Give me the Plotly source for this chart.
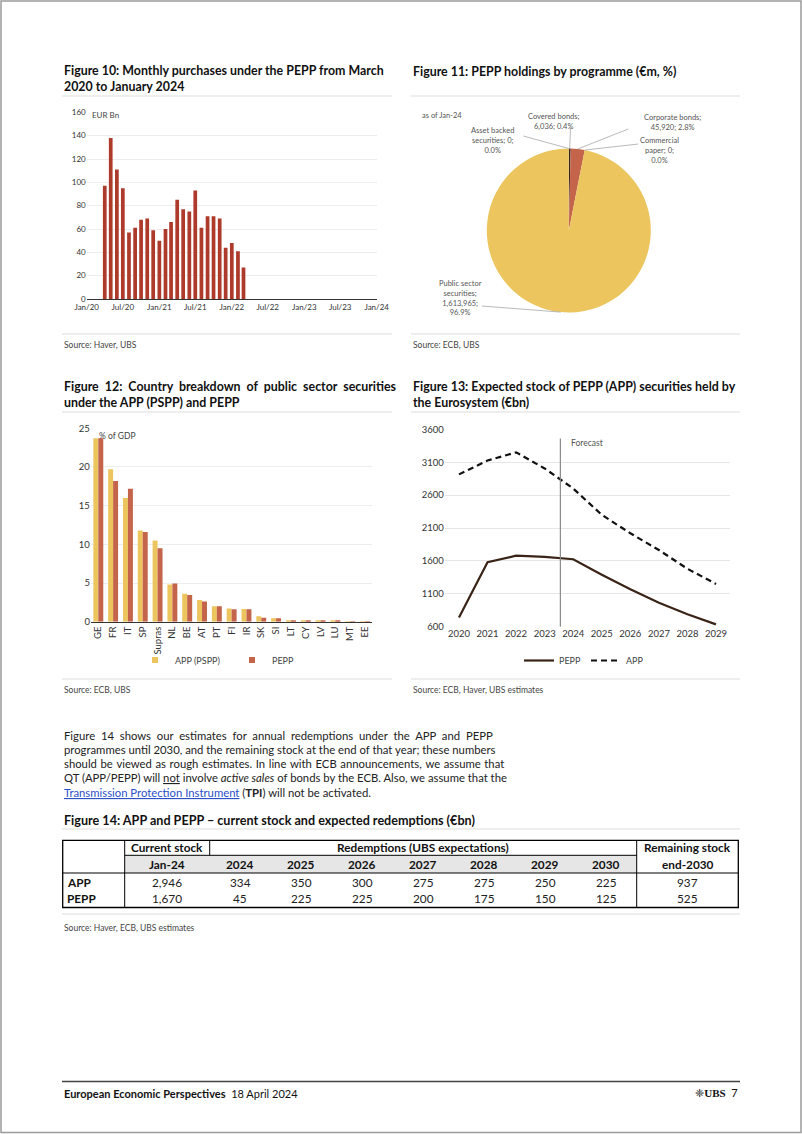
import plotly.graph_objects as go
import pandas as pd
import math

W, H = 802, 1134
def X(px): return px / W
def Y(py): return 1 - py / H

# ---------------- data ----------------
# Figure 10: monthly PEPP purchases (EUR bn), Apr-2020 .. Mar-2022
pepp_monthly = [97, 138, 111, 95, 57, 61, 68, 69, 59, 50, 60, 66,
                85, 77, 75, 93, 61, 71, 71, 69, 44, 48, 41, 27]
pepp_first_month = "2020-04-01"
f10_xrange = ["2020-01-01", "2024-01-01"]
f10_yticks = [0, 20, 40, 60, 80, 100, 120, 140, 160]

# Figure 11: PEPP holdings by programme (EUR m)
pie_names = ["Asset backed securities", "Covered bonds", "Corporate bonds",
             "Commercial paper", "Public sector securities"]
pie_values = [0, 6036, 45920, 0, 1613965]
pie_colors = ["#CFCFCF", "#3A2518", "#C3644B", "#D9D9D9", "#ECC55F"]

# Figure 12: % of GDP
countries = ["GE", "FR", "IT", "SP", "Supras", "NL", "BE", "AT", "PT", "FI",
             "IR", "SK", "SI", "LT", "CY", "LV", "LU", "MT", "EE"]
app_pspp = [23.7, 19.7, 16.0, 11.8, 10.5, 4.8, 3.6, 2.8, 2.0, 1.7,
            1.65, 0.7, 0.45, 0.2, 0.15, 0.12, 0.1, 0.03, 0.02]
pepp_gdp = [23.7, 18.2, 17.2, 11.6, 9.5, 4.95, 3.45, 2.6, 2.0, 1.6,
            1.6, 0.5, 0.45, 0.2, 0.15, 0.1, 0.1, 0.02, 0.02]

# Figure 13: expected stock (EUR bn)
years = ["2020", "2021", "2022", "2023", "2024", "2025", "2026", "2027", "2028", "2029"]
pepp_stock = [740, 1580, 1680, 1660, 1625, 1390, 1170, 965, 790, 635]
app_stock = [2915, 3125, 3250, 3005, 2700, 2300, 2020, 1765, 1480, 1250]
forecast_pos = 3.55  # between 2023 and 2024 (category units)

# Figure 14 table
tbl_programmes = ["APP", "PEPP"]
tbl_years = ["2024", "2025", "2026", "2027", "2028", "2029", "2030"]
tbl_current = [2946, 1670]
tbl_redemptions = [[334, 350, 300, 275, 275, 250, 225],
                   [45, 225, 225, 200, 175, 150, 125]]
tbl_remaining = [937, 525]

# ---------------- styles ----------------
FONT = "Lato"
TFONT = "Lato"
RED10 = "#AD3A2B"
GOLD = "#ECC55F"
BRICK = "#C3644B"
DARK = "#3A2417"
GRID = "#EDEDED"

fig = go.Figure()

# ---- Figure 10 ----
months = pd.date_range(pepp_first_month, periods=len(pepp_monthly), freq="MS")
fig.add_trace(go.Bar(x=months, y=pepp_monthly, marker_color=RED10,
                     marker_line_width=0, showlegend=False,
                     xaxis="x", yaxis="y"))

# ---- Figure 11 ----
fig.add_trace(go.Pie(labels=pie_names, values=pie_values, sort=False,
                     direction="clockwise", rotation=0,
                     marker=dict(colors=pie_colors, line=dict(width=0)),
                     textinfo="none", hoverinfo="label+value+percent",
                     showlegend=False,
                     domain=dict(x=[X(486.8), X(650.8)], y=[Y(312.5), Y(148.5)])))

# ---- Figure 12 ----
fig.add_trace(go.Bar(x=countries, y=app_pspp, name="APP (PSPP)", marker_color=GOLD,
                     marker_line_width=0, showlegend=False, xaxis="x2", yaxis="y2"))
fig.add_trace(go.Bar(x=countries, y=pepp_gdp, name="PEPP", marker_color=BRICK,
                     marker_line_width=0, showlegend=False, xaxis="x2", yaxis="y2"))
# legend proxies
fig.add_trace(go.Scatter(x=[None], y=[None], mode="markers", name="APP (PSPP)",
                         marker=dict(symbol="square", size=6, color=GOLD),
                         xaxis="x2", yaxis="y2", legend="legend"))
fig.add_trace(go.Scatter(x=[None], y=[None], mode="markers", name="PEPP",
                         marker=dict(symbol="square", size=6, color=BRICK),
                         xaxis="x2", yaxis="y2", legend="legend"))

# ---- Figure 13 ----
fig.add_trace(go.Scatter(x=years, y=pepp_stock, mode="lines", name="PEPP",
                         line=dict(color=DARK, width=2.2),
                         xaxis="x3", yaxis="y3", legend="legend2"))
fig.add_trace(go.Scatter(x=years, y=app_stock, mode="lines", name="APP",
                         line=dict(color="#111111", width=2.2, dash="6px,4px"),
                         xaxis="x3", yaxis="y3", legend="legend2"))

annotations = []
shapes = []

def txt(x, y, text, size=9, color="#333", anchor="left", family=FONT, yanchor="middle"):
    annotations.append(dict(x=X(x), y=Y(y), xref="paper", yref="paper", text=text,
                            showarrow=False, xanchor=anchor, yanchor=yanchor,
                            align=anchor if anchor != "center" else "center",
                            font=dict(size=size, color=color, family=family)))

def hline(x0, x1, y, color="#DDDDDD", width=1):
    shapes.append(dict(type="line", xref="paper", yref="paper", x0=X(x0), x1=X(x1),
                       y0=Y(y), y1=Y(y), line=dict(color=color, width=width)))

def vline(x, y0, y1, color="#000", width=1):
    shapes.append(dict(type="line", xref="paper", yref="paper", x0=X(x), x1=X(x),
                       y0=Y(y0), y1=Y(y1), line=dict(color=color, width=width)))

def widen(line, sp):
    """join words with a wider separator (simulated justification), not touching html tags"""
    parts = line.split(" ")
    out, buf = [], ""
    for p in parts:
        buf = (buf + " " + p) if buf else p
        if buf.count("<") == buf.count(">"):
            out.append(buf)
            buf = ""
    if buf:
        out.append(buf)
    return sp.join(out)

# titles
TS = 12.4
txt(62, 78, "<b>Figure 10: Monthly purchases under the PEPP from March<br>2020 to January 2024</b>",
    TS, "#111", family=TFONT)
txt(411, 71, "<b>Figure 11: PEPP holdings by programme (€m, %)</b>", TS, "#111", family=TFONT)
txt(62, 394.5, "<b>" + widen("Figure 12: Country breakdown of public sector securities", " \u00a0")
    + "<br>under the APP (PSPP) and PEPP</b>", TS, "#111", family=TFONT)
txt(411, 394.5, "<b>Figure 13: Expected stock of PEPP (APP) securities held by<br>the Eurosystem (€bn)</b>",
    TS, "#111", family=TFONT)
txt(62, 820, "<b>Figure 14: APP and PEPP – current stock and expected redemptions (€bn)</b>",
    12.6, "#111", family=TFONT)

# separators
for (a, b) in [(62, 392), (411, 740)]:
    hline(a, b, 96)
    hline(a, b, 334)
    hline(a, b, 412)
    hline(a, b, 679)
hline(62, 740, 829)
hline(62, 740, 914)

# sources
txt(62, 345, "Source: Haver, UBS", 8.5, "#444")
txt(411, 345, "Source: ECB, UBS", 8.5, "#444")
txt(62, 690, "Source: ECB, UBS", 8.5, "#444")
txt(411, 690, "Source: ECB, Haver, UBS estimates", 8.5, "#444")
txt(62, 928, "Source: Haver, ECB, UBS estimates", 8.5, "#444")

# in-chart notes
txt(90, 115, "EUR Bn", 8, "#444")
txt(97, 436, "% of GDP", 8.5, "#444")
txt(420, 115, "as of Jan-24", 7.5, "#555")

# pie labels and leader lines computed from the data
total = sum(pie_values)
pcts = [v / total * 100 for v in pie_values]
label_texts = [
    f"Asset backed<br>securities; {pie_values[0]:,};<br>{pcts[0]:.1f}%",
    f"Covered bonds;<br>{pie_values[1]:,}; {pcts[1]:.1f}%",
    f"Corporate bonds;<br>{pie_values[2]:,}; {pcts[2]:.1f}%",
    f"Commercial<br>paper; {pie_values[3]:,};<br>{pcts[3]:.1f}%",
    f"Public sector<br>securities;<br>{pie_values[4]:,};<br>{pcts[4]:.1f}%",
]
label_pos = [(493, 141), (554, 121.5), (672, 122.5), (659, 150), (460, 297.5)]
leader_from = [(523.3, 136), (570.5, 128), (628.3, 129), (638.3, 144), (481.7, 306)]
cx, cy, r = 568.8, 230.5, 82
cum = 0
for i, v in enumerate(pie_values):
    mid = (cum + v / 2) / total * 2 * math.pi
    cum += v
    ex, ey = cx + r * math.sin(mid), cy - r * math.cos(mid)
    lx, ly = leader_from[i]
    shapes.append(dict(type="line", xref="paper", yref="paper", x0=X(lx), y0=Y(ly),
                       x1=X(ex), y1=Y(ey), line=dict(color="#A8A8A8", width=0.8)))
    txt(label_pos[i][0], label_pos[i][1], label_texts[i], 7.5, "#555", anchor="center")

# forecast line
shapes.append(dict(type="line", xref="x3", yref="y3 domain", x0=forecast_pos, x1=forecast_pos,
                   y0=0, y1=0.954, line=dict(color="#8A8A8A", width=1.2)))
txt(569, 443, "Forecast", 8.5, "#555")

# paragraph (justified lines use slightly widened word spaces)
para = [
    ("Figure 14 shows our estimates for annual redemptions under the APP and PEPP", " \u00a0"),
    ("programmes until 2030, and the remaining stock at the end of that year; these numbers", None),
    ("should be viewed as rough estimates. In line with ECB announcements, we assume that", " \u200a"),
    ("QT (APP/PEPP) will <u>not</u> involve <i>active sales</i> of bonds by the ECB. Also, we assume that the", None),
    ("<span style='color:#2B50C8'><u>Transmission Protection Instrument</u></span> (<b>TPI</b>) will not be activated.", None),
]
for k, (line, sp) in enumerate(para):
    if sp is not None:
        line = widen(line, sp)
    txt(61.5, 735 + k * 14.3, line, 11.3, "#222")

# table
TL, TR, TT, TB = 62.7, 738.3, 840.3, 907.5
C1, C2, C3 = 124.7, 209.7, 636.7
R1, R2 = 855.3, 873
shapes.append(dict(type="rect", xref="paper", yref="paper", x0=X(C1), x1=X(C3), y0=Y(R2), y1=Y(R1),
                   fillcolor="#E6E6E6", line=dict(width=0), layer="below"))
shapes.append(dict(type="rect", xref="paper", yref="paper", x0=X(TL), x1=X(TR), y0=Y(TB), y1=Y(TT),
                   line=dict(color="#000", width=1.3)))
vline(C1, TT, TB)
vline(C2, TT, R1)
vline(C3, TT, TB)
hline(C1, C3, R1, "#000", 1)
hline(TL, TR, R2, "#000", 1)

TF = "Lato"
FS = 11.8
txt((C1 + C2) / 2, 847.5, "<b>Current stock</b>", FS, "#111", "center", TF)
txt((C2 + C3) / 2, 847.5, "<b>Redemptions (UBS expectations)</b>", FS, "#111", "center", TF)
txt((C3 + TR) / 2, 847.5, "<b>Remaining stock</b>", FS, "#111", "center", TF)
txt((C1 + C2) / 2, 864.5, "<b>Jan-24</b>", FS, "#111", "center", TF)
txt((C3 + TR) / 2, 864.5, "<b>end-2030</b>", FS, "#111", "center", TF)
cw = (C3 - C2) / len(tbl_years)
for j, yr in enumerate(tbl_years):
    txt(C2 + cw * (j + 0.5), 864.5, f"<b>{yr}</b>", FS, "#111", "center", TF)
row_y = [882, 898.5]
for i, prog in enumerate(tbl_programmes):
    txt(TL + 2, row_y[i], f"<b>{prog}</b>", FS, "#111", "left", TF)
    txt((C1 + C2) / 2, row_y[i], f"{tbl_current[i]:,}", FS, "#222", "center", TF)
    for j, v in enumerate(tbl_redemptions[i]):
        txt(C2 + cw * (j + 0.5), row_y[i], f"{v:,}", FS, "#222", "center", TF)
    txt((C3 + TR) / 2, row_y[i], f"{tbl_remaining[i]:,}", FS, "#222", "center", TF)

# footer
hline(62, 740, 1081.5, "#444", 1.3)
txt(62, 1093, "<b>European Economic Perspectives</b>  18 April 2024", 11, "#111")
txt(740, 1093, "<span style='font-family:DejaVu Sans'>❈</span><b><span style='font-family:Liberation Serif'>UBS</span></b>  7",
    11, "#111", anchor="right")

# page border
shapes.append(dict(type="rect", xref="paper", yref="paper", x0=X(1), x1=X(801), y0=Y(1132.5), y1=Y(1),
                   line=dict(color="#9A9A9A", width=1.5)))

tickfont = dict(family=FONT, size=8, color="#333")
fig.update_layout(
    width=W, height=H, margin=dict(l=0, r=0, t=0, b=0, pad=0, autoexpand=False),
    paper_bgcolor="white", plot_bgcolor="white",
    bargap=0.33, barmode="group",
    xaxis=dict(domain=[X(86.7), X(376.7)], anchor="y", type="date", range=f10_xrange,
               dtick="M6", tick0="2020-01-01", tickformat="%b/%y", showgrid=False,
               showline=True, linecolor="#333", linewidth=1.3, ticks="", tickfont=tickfont,
               automargin=False, ticklabeloverflow="allow"),
    yaxis=dict(domain=[Y(299), Y(112.1)], anchor="x", range=[0, 160.2], tickvals=f10_yticks,
               showgrid=True, gridcolor=GRID, zeroline=False, tickfont=tickfont, ticks="",
               automargin=False, ticklabeloverflow="allow"),
    xaxis2=dict(domain=[X(90.9), X(372.4)], anchor="y2", type="category", range=[-0.5, 18.5],
                tickangle=-90, showline=True, linecolor="#333", linewidth=1.2, ticks="",
                tickfont=dict(family=FONT, size=9.5, color="#333"), automargin=False,
                ticklabeloverflow="allow"),
    yaxis2=dict(domain=[Y(621.7), Y(428.3)], anchor="x2", range=[0, 25], dtick=5,
                showgrid=True, gridcolor=GRID, zeroline=False, ticks="",
                tickfont=dict(family=FONT, size=9.5, color="#333"), automargin=False,
                ticklabeloverflow="allow"),
    xaxis3=dict(domain=[X(444.7), X(730.3)], anchor="y3", type="category", range=[-0.5, 9.5],
                showgrid=False, showline=False, ticks="",
                tickfont=dict(family=FONT, size=9.5, color="#333"), automargin=False,
                ticklabeloverflow="allow"),
    yaxis3=dict(domain=[Y(626.7), Y(429.3)], anchor="x3", range=[600, 3600],
                tickvals=[600, 1100, 1600, 2100, 2600, 3100, 3600],
                showgrid=True, gridcolor="#E6E6E6", zeroline=False, ticks="",
                tickfont=dict(family=FONT, size=9.5, color="#333"), automargin=False,
                ticklabeloverflow="allow"),
    legend=dict(x=X(135), y=Y(660), xanchor="left", yanchor="middle", orientation="h",
                font=dict(family=FONT, size=9, color="#444"), bgcolor="rgba(0,0,0,0)",
                entrywidth=52, itemwidth=30),
    legend2=dict(x=X(584), y=Y(660.5), xanchor="center", yanchor="middle", orientation="h",
                 font=dict(family=FONT, size=9, color="#444"), bgcolor="rgba(0,0,0,0)",
                 itemwidth=30),
    annotations=annotations, shapes=shapes,
)

fig.write_html("out.html", config={"displayModeBar": False},
               post_script="document.body.style.margin='0';document.body.style.padding='0';"
                           "document.documentElement.style.overflow='hidden';")
